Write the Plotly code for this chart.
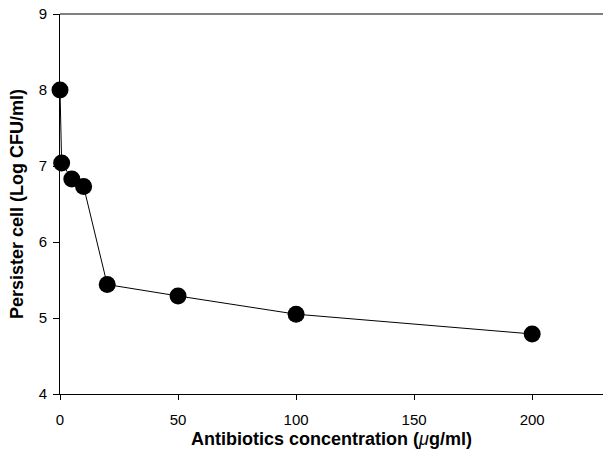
import plotly.graph_objects as go

concentration = [0, 0.7, 5, 10, 20, 50, 100, 200]
persister_log = [8.0, 7.04, 6.83, 6.73, 5.44, 5.29, 5.05, 4.79]
x_ticks = [0, 50, 100, 150, 200]
y_ticks = [4, 5, 6, 7, 8, 9]

fig = go.Figure()
fig.add_trace(go.Scatter(
    x=concentration, y=persister_log, mode="lines+markers",
    line=dict(color="black", width=1),
    marker=dict(color="black", size=17),
    showlegend=False, cliponaxis=False,
))

font_fam = "Liberation Sans, Arial, sans-serif"
fig.update_layout(
    width=603, height=460,
    margin=dict(l=60, r=0, t=14, b=66),
    plot_bgcolor="white", paper_bgcolor="white",
    font=dict(family=font_fam, color="black", size=15),
    xaxis=dict(
        range=[0, 230], tickvals=x_ticks, showgrid=False, zeroline=False,
        showline=True, linecolor="black", linewidth=1, mirror=False,
        ticks="outside", ticklen=5, tickcolor="black", ticklabelstandoff=7,
        tickfont=dict(size=15, family=font_fam),
        title=dict(text="<b>Antibiotics concentration (</b><i>μ</i><b>g/ml)</b>",
                   font=dict(size=18, family=font_fam), standoff=5),
    ),
    yaxis=dict(
        range=[4, 9], tickvals=y_ticks, showgrid=False, zeroline=False,
        showline=True, linecolor="black", linewidth=1,
        ticks="outside", ticklen=6, tickcolor="black", ticklabelstandoff=3,
        tickfont=dict(size=15, family=font_fam),
        title=dict(text="<b>Persister cell (Log CFU/ml)</b>",
                   font=dict(size=18, family=font_fam), standoff=10),
    ),
)
fig.add_shape(type="line", xref="paper", yref="paper", x0=0, x1=1, y0=1, y1=1,
              line=dict(color="black", width=1))
fig.write_html("out.html")
